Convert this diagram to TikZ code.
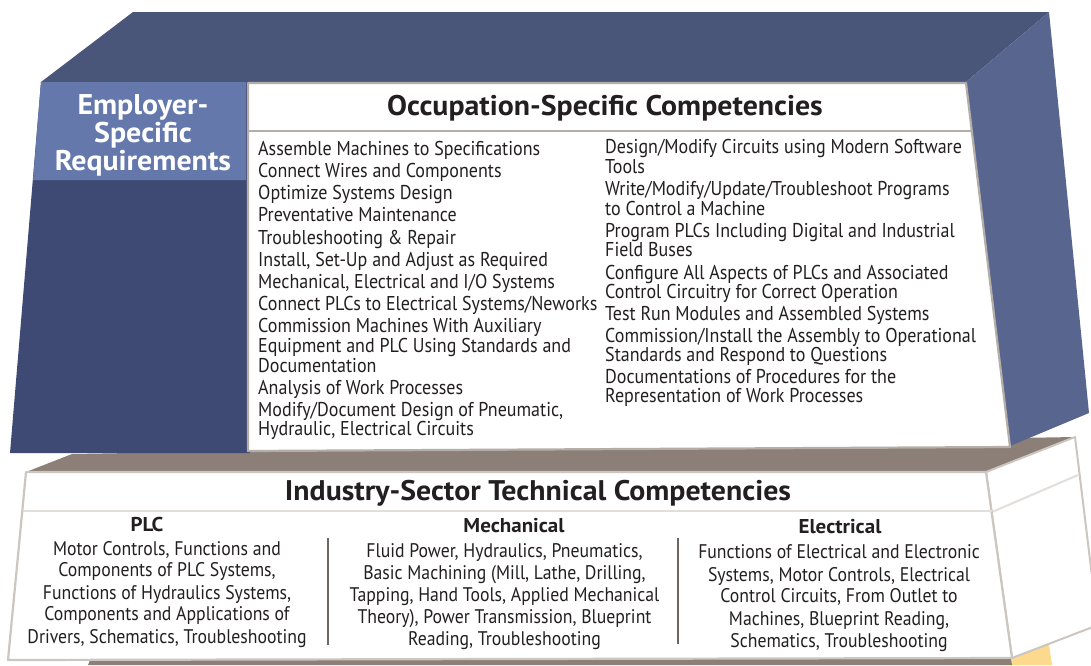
\documentclass[tikz,border=0pt]{standalone}
\usepackage{fontspec}
\setmainfont{PT Sans}[FakeStretch=0.9, BoldFeatures={FakeStretch=1.05}]
\definecolor{topb}{HTML}{4A5679}
\definecolor{sideb}{HTML}{58668F}
\definecolor{frontb}{HTML}{3F4A74}
\definecolor{empb}{HTML}{6478AC}
\definecolor{taupe}{HTML}{8B7F78}
\definecolor{ink}{HTML}{231F20}
\definecolor{bord}{HTML}{B5AEA8}
\definecolor{bordl}{HTML}{CCC6C1}
\definecolor{sepl}{HTML}{E2DEDB}
\definecolor{divl}{HTML}{6E6560}
\definecolor{ylw}{HTML}{FCD98C}
\begin{document}
\begin{tikzpicture}[x=1pt,y=-1pt,
  lst/.style={anchor=base west, inner sep=0pt, text=ink, font=\fontsize{20}{20}\selectfont},
  ctr/.style={anchor=base, inner sep=0pt, text=ink, font=\fontsize{19.7}{19.7}\selectfont},
  sub/.style={anchor=base, inner sep=0pt, text=ink, font=\bfseries\fontsize{20}{20}\selectfont},
  ttl/.style={anchor=base, inner sep=0pt, text=ink, font=\bfseries\fontsize{28.4}{28.4}\selectfont},
  emp/.style={anchor=base, inner sep=0pt, text=white, font=\bfseries\fontsize{28.5}{28.5}\selectfont},
  divider/.style={draw=divl, line width=1.6pt}]
\useasboundingbox (0,0) rectangle (1091,665);
\clip (0,0) rectangle (1091,665);
% bottom layers
\fill[ylw] (1000,665) -- (1000,648) -- (1048,638) -- (1052,665) -- cycle;
\fill[taupe] (88,665) -- (92,655) -- (1010,655) -- (1012,665) -- cycle;
% grey top face of lower block
\fill[taupe] (72,454) -- (1075,437) -- (986,472) -- (26,472) -- cycle;
% lower block right face
\filldraw[fill=white, draw=bordl, line width=2pt, line join=round]
  (986,472) -- (1075,437) -- (1098,625) -- (1012,658) -- cycle;
\draw[sepl, line width=2pt] (992,512) -- (1078,475);
% lower block front
\filldraw[fill=white, draw=bordl, line width=2.2pt, line join=round]
  (26,472) -- (986,472) -- (1012,658) -- (8,660) -- cycle;
\draw[sepl, line width=2pt] (23,511) -- (992,511);
% upper blue block
\fill[topb] (133,12) -- (1049,12) -- (966,82) -- (41,82) -- cycle;
\fill[sideb] (1049,12) -- (1089,413) -- (1010,446) -- (966,82) -- cycle;
\fill[frontb] (41,82) -- (250,82) -- (250,453) -- (10,453) -- cycle;
\fill[empb] (41,82) -- (246,82) -- (246,180) -- (33,180) -- cycle;
% white panel
\filldraw[fill=white, draw=bord, line width=2.2pt, line join=round]
  (248,83) -- (966,83) -- (1010,447) -- (248,451) -- cycle;
\draw[bord, line width=2pt] (248,131) -- (972,131);
% titles
\node[emp] (e1) at (143,114.3) {Employer-};
\node[emp] (e2) at (143,142.5) {Specific};
\node[emp] (e3) at (143,170) {Requirements};
\node[ttl] (occ) at (605,115.7) {Occupation-Specific Competencies};
\node[ttl] (ind) at (538,500) {Industry-Sector Technical Competencies};
% left list
\foreach \yy/\tx [count=\i] in {
155.7/{Assemble Machines to Specifications},
177.5/{Connect Wires and Components},
199.5/{Optimize Systems Design},
221.7/{Preventative Maintenance},
244/{Troubleshooting \& Repair},
266/{Install, Set-Up and Adjust as Required},
288.3/{Mechanical, Electrical and I/O Systems},
310.5/{Connect PLCs to Electrical Systems/Neworks},
332.5/{Commission Machines With Auxiliary},
352.5/{Equipment and PLC Using Standards and},
372.5/{Documentation},
394/{Analysis of Work Processes},
416/{Modify/Document Design of Pneumatic,},
435.5/{Hydraulic, Electrical Circuits}}
{\node[lst] (L\i) at (258,\yy) {\tx};}
% right list
\foreach \yy/\tx [count=\i] in {
153.3/{Design/Modify Circuits using Modern Software},
173.3/{Tools},
195/{Write/Modify/Update/Troubleshoot Programs},
215/{to Control a Machine},
237.3/{Program PLCs Including Digital and Industrial},
256.7/{Field Buses},
279.3/{Configure All Aspects of PLCs and Associated},
298.3/{Control Circuitry for Correct Operation},
320/{Test Run Modules and Assembled Systems},
342.7/{Commission/Install the Assembly to Operational},
361.7/{Standards and Respond to Questions},
383.3/{Documentations of Procedures for the},
402.7/{Representation of Work Processes}}
{\node[lst] (R\i) at (605,\yy) {\tx};}
% lower columns
\node[sub] (plc) at (147,531.7) {PLC};
\node[sub] (mech) at (514,532.7) {Mechanical};
\node[sub] (elec) at (840,533.3) {Electrical};
\foreach \yy/\tx [count=\i] in {
555/{Motor Controls, Functions and},
576.7/{Components of PLC Systems,},
599.3/{Functions of Hydraulics Systems,},
620.7/{Components and Applications of},
643.3/{Drivers, Schematics, Troubleshooting}}
{\node[ctr] (P\i) at (167,\yy) {\tx};}
\foreach \yy/\tx [count=\i] in {
557.3/{Fluid Power, Hydraulics, Pneumatics,},
579.3/{Basic Machining (Mill, Lathe, Drilling,},
601.7/{Tapping, Hand Tools, Applied Mechanical},
623.3/{Theory), Power Transmission, Blueprint},
645/{Reading, Troubleshooting}}
{\node[ctr] (M\i) at (504.5,\yy) {\tx};}
\foreach \yy/\tx [count=\i] in {
558.3/{Functions of Electrical and Electronic},
581/{Systems, Motor Controls, Electrical},
602.7/{Control Circuits, From Outlet to},
625/{Machines, Blueprint Reading,},
647.7/{Schematics, Troubleshooting}}
{\node[ctr] (E\i) at (839,\yy) {\tx};}
% dividers
\coordinate (d1a) at (328,538); \coordinate (d1b) at (328,645);
\coordinate (d2a) at (678,538); \coordinate (d2b) at (678,644);
\draw[divider] (d1a) -- (d1b);
\draw[divider] (d2a) -- (d2b);
\end{tikzpicture}
\end{document}
